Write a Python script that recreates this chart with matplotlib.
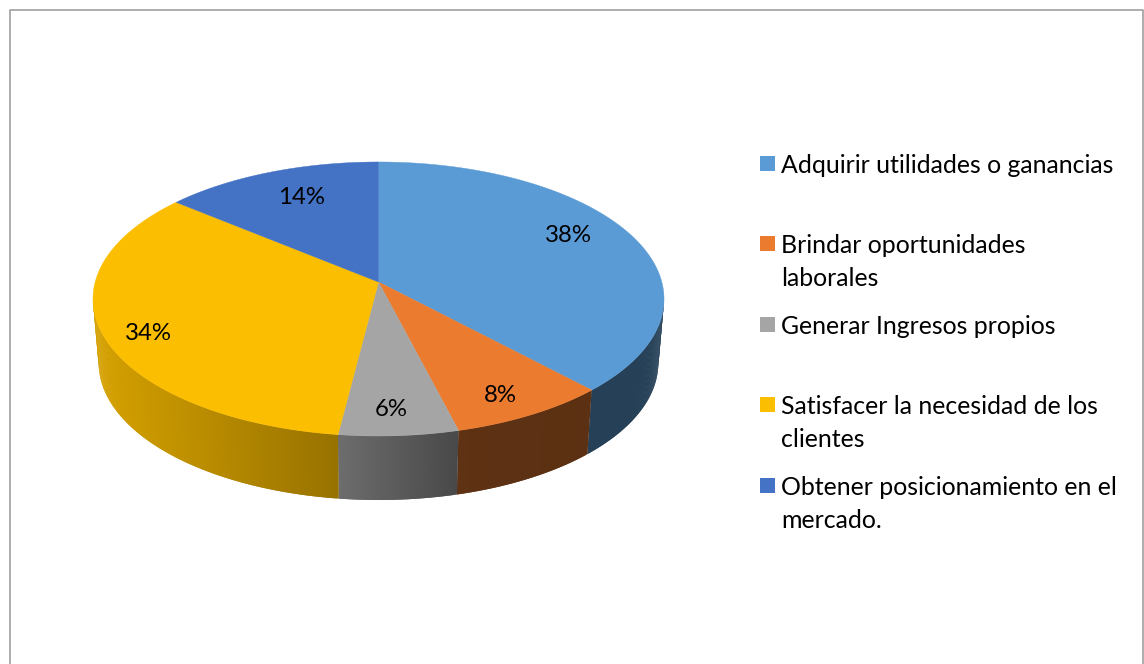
import numpy as np
import matplotlib
matplotlib.use('Agg')
import matplotlib.pyplot as plt

plt.rcParams['font.family'] = ['Lato', 'DejaVu Sans']

# Data
labels = ['Adquirir utilidades o ganancias', 'Brindar oportunidades\nlaborales',
          'Generar Ingresos propios', 'Satisfacer la necesidad de los\nclientes',
          'Obtener posicionamiento en el\nmercado.']
values = [38, 8, 6, 34, 14]
colors = ['#5B9BD5', '#EB7C2F', '#A5A5A5', '#FCBE00', '#4472C4']

# side shading, left and right end of each slice
side_shade = [(0.41, 0.41), (0.40, 0.39), (0.66, 0.44), (0.85, 0.60), (0.40, 0.40)]

# where things go, in picture pixels
label_xy = [(568, 235), (500, 395), (391, 409), (148, 334), (302, 197)]
legend_y = [172, 252, 333, 413, 494]

cx, cy = 378.5, 282
a, b, k = 283.3, 134.9, 0.124
depth = 64
side_from = 297  # top rim is widest here, the sides only show below it


def project(frac):
    # perspective view of the round pie, frac runs clockwise from the top
    ang = 2 * np.pi * frac
    u, v = np.sin(ang), np.cos(ang)
    w = 1 + k * v
    return cx + a * u / w, cy - b * v / w


fig = plt.figure(figsize=(11.44, 6.64), dpi=100)
ax = fig.add_axes([0, 0, 1, 1])
ax.set_xlim(0, 1144)
ax.set_ylim(664, 0)
ax.axis('off')

# Frame, open at the bottom
ax.plot([9.5, 9.5, 1143, 1143], [664, 10, 10, 664], color='#A0A0A0', lw=1.2)

edges = np.cumsum([0] + values) / sum(values)

# Sides first, the top covers their upper edge
for i in range(len(values)):
    fr = np.linspace(edges[i], edges[i + 1], int(values[i] * 10) + 2)
    xs, ys = project(fr)
    xb = cx + (xs - cx) * 0.98
    yb = ys + depth
    base = np.array(matplotlib.colors.to_rgb(colors[i]))
    for j in range(len(fr) - 1):
        if max(ys[j], ys[j + 1]) < side_from:
            continue
        t = ((xs[j] + xs[j + 1]) / 2 - xs.min()) / (xs.max() - xs.min())
        shade = side_shade[i][0] + (side_shade[i][1] - side_shade[i][0]) * t
        # each strip runs a step further so no seams show under the next one
        e = min(j + 2, len(fr) - 1)
        ax.fill([xs[j], xs[e], xb[e], xb[j]], [ys[j], ys[e], yb[e], yb[j]],
                color=base * shade, lw=0, zorder=2)

# Top of the pie
for i in range(len(values)):
    fr = np.linspace(edges[i], edges[i + 1], int(values[i] * 10) + 2)
    xs, ys = project(fr)
    ax.fill(np.r_[cx, xs], np.r_[cy, ys], color=colors[i], lw=0.3, zorder=4)
    ax.text(label_xy[i][0], label_xy[i][1], f'{values[i]}%', fontsize=17.3, color='black',
            ha='center', va='center', zorder=5)

# Legend
for i in range(len(labels)):
    ax.fill([760, 775, 775, 760], [legend_y[i] - 16, legend_y[i] - 16, legend_y[i] - 1, legend_y[i] - 1],
            color=colors[i], lw=0)
    for n, line in enumerate(labels[i].split('\n')):
        ax.text(781, legend_y[i] + 1 + n * 33, line, fontsize=17.9, color='black', ha='left', va='baseline')

plt.savefig('out.png', dpi=100)
